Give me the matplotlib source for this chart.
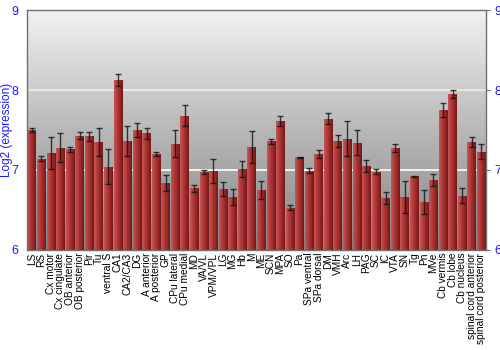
import numpy as np
import matplotlib
matplotlib.use("Agg")
import matplotlib.pyplot as plt
from matplotlib.colors import LinearSegmentedColormap

plt.rcParams['font.family'] = ['Liberation Sans', 'DejaVu Sans']

regions = ["LS", "RS", "Cx motor", "Cx cingulate", "OB anterior", "OB posterior", "Pir", "Tu",
           "ventral S", "CA1", "CA2/CA3", "DG", "A anterior", "A posterior", "GP", "CPu lateral",
           "CPu medial", "MD", "VA/VL", "VPM/VPL", "LG", "MG", "Hb", "M", "ME", "SCN", "MPA", "SO",
           "Pa", "SPa ventral", "SPa dorsal", "DM", "VMH", "Arc", "LH", "PAG", "SC", "IC", "VTA",
           "SN", "Tg", "Pn", "MVe", "Cb vermis", "Cb lobe", "Cb nucleus",
           "spinal cord anterior", "spinal cord posterior"]

expression = [7.50, 7.14, 7.21, 7.28, 7.26, 7.43, 7.42, 7.35,
              7.04, 8.12, 7.36, 7.50, 7.46, 7.20, 6.84, 7.33,
              7.68, 6.77, 6.975, 6.99, 6.76, 6.66, 7.01, 7.29, 6.75, 7.36, 7.61, 6.53,
              7.16, 6.99, 7.20, 7.64, 7.36, 7.39, 7.34, 7.05, 6.98, 6.65, 7.275,
              6.66, 6.92, 6.60, 6.875, 7.75, 7.95, 6.68,
              7.35, 7.23]

errors = [0.03, 0.03, 0.20, 0.18, 0.03, 0.04, 0.06, 0.18,
          0.22, 0.075, 0.19, 0.09, 0.07, 0.025, 0.10, 0.17,
          0.13, 0.045, 0.02, 0.15, 0.09, 0.10, 0.10, 0.20, 0.11, 0.03, 0.06, 0.03,
          0.005, 0.03, 0.05, 0.07, 0.075, 0.22, 0.155, 0.08, 0.03, 0.07, 0.045,
          0.20, 0.01, 0.15, 0.08, 0.09, 0.05, 0.09,
          0.06, 0.09]

yticks = [6, 7, 8, 9]

fig = plt.figure(figsize=(5, 3.5), dpi=100)
ax = fig.add_axes([0.054, 0.286, 0.918, 0.685])

ymin, ymax = 6, 9
n = len(regions)
x = np.arange(n)

# background gradient
bg = LinearSegmentedColormap.from_list("bg", ["#858585", "#b8b8b8", "#f2f2f2"])
grad = np.linspace(0, 1, 256).reshape(-1, 1)
ax.imshow(grad, cmap=bg, aspect='auto', origin='lower',
          extent=(-0.5, n - 0.5, ymin, ymax), zorder=0)

# grid lines
ax.axhline(8, color="#e6e6e6", lw=1.5, zorder=1)
ax.axhline(7, color="#ffffff", lw=1.2, zorder=1)

bars = ax.bar(x, np.array(expression) - ymin, bottom=ymin, width=0.9,
              color="#a83030", edgecolor="none", zorder=2)

barcm = LinearSegmentedColormap.from_list("bar", ["#c45858", "#b53c3c", "#9a2828", "#701818"])
hgrad = np.linspace(0, 1, 64).reshape(1, -1)
for b in bars:
    x0 = b.get_x()
    w = b.get_width()
    im = ax.imshow(hgrad, cmap=barcm, aspect='auto',
                   extent=(x0, x0 + w, ymin, b.get_y() + b.get_height()), zorder=2.5)
    im.set_clip_path(b)

ax.errorbar(x, expression, yerr=errors, fmt='none', ecolor="#111111", elinewidth=1.0,
            capsize=2.5, capthick=1.0, alpha=0.8, zorder=3)

ax.set_xlim(-0.5, n - 0.5)
ax.set_ylim(ymin, ymax)
ax.set_xticks(x)
ax.set_xticklabels(regions, rotation=90, fontsize=7.3)
ax.tick_params(axis='x', length=0, pad=2)
ax.set_yticks(yticks)
ax.tick_params(axis='y', labelsize=9, colors="#707070", labelcolor="#1a1aff",
               left=False, right=True, labelleft=True, labelright=True, length=3, pad=3)
ax.set_ylabel("Log2 (expression)", color="#1a1aff", fontsize=8.5)
ax.yaxis.set_label_coords(-0.031, 0.5)

for s in ax.spines.values():
    s.set_color("#707070")
    s.set_linewidth(1.0)

fig.savefig("out.png", dpi=100)
